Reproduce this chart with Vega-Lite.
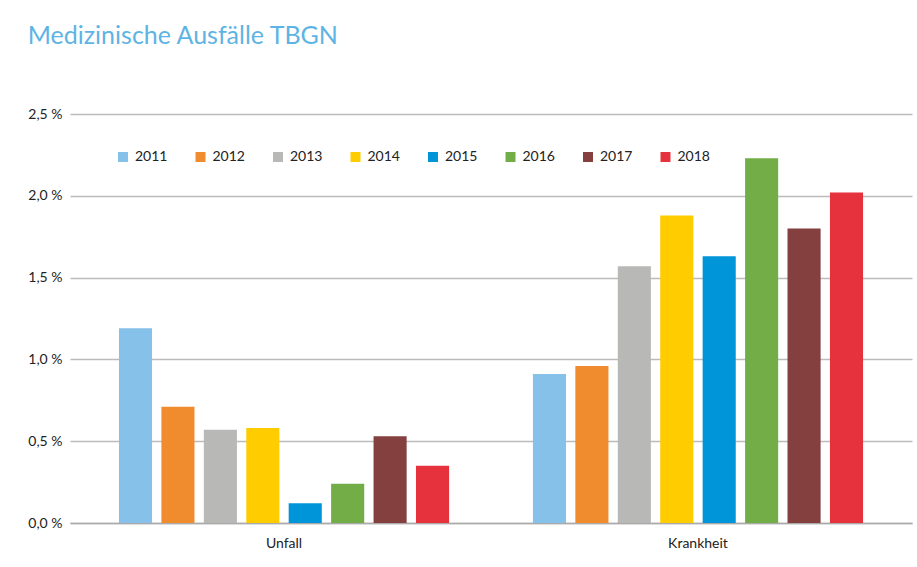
{
  "$schema": "https://vega.github.io/schema/vega-lite/v6.json",
  "autosize": {"type": "none"},
  "width": 842,
  "height": 409,
  "padding": {"left": 70, "top": 114, "right": 5, "bottom": 44},
  "background": "white",
  "title": {
    "text": "Medizinische Ausfälle TBGN",
    "anchor": "start",
    "frame": "bounds",
    "font": "Lato",
    "fontSize": 25,
    "fontWeight": "normal",
    "color": "#5DB4E4",
    "offset": 58
  },
  "config": {
    "font": "Lato",
    "view": {"stroke": null}
  },
  "data": {
    "values": [
      {"cat": "Unfall", "year": "2011", "v": 1.19},
      {"cat": "Unfall", "year": "2012", "v": 0.71},
      {"cat": "Unfall", "year": "2013", "v": 0.57},
      {"cat": "Unfall", "year": "2014", "v": 0.58},
      {"cat": "Unfall", "year": "2015", "v": 0.12},
      {"cat": "Unfall", "year": "2016", "v": 0.24},
      {"cat": "Unfall", "year": "2017", "v": 0.53},
      {"cat": "Unfall", "year": "2018", "v": 0.35},
      {"cat": "Krankheit", "year": "2011", "v": 0.91},
      {"cat": "Krankheit", "year": "2012", "v": 0.96},
      {"cat": "Krankheit", "year": "2013", "v": 1.57},
      {"cat": "Krankheit", "year": "2014", "v": 1.88},
      {"cat": "Krankheit", "year": "2015", "v": 1.63},
      {"cat": "Krankheit", "year": "2016", "v": 2.23},
      {"cat": "Krankheit", "year": "2017", "v": 1.8},
      {"cat": "Krankheit", "year": "2018", "v": 2.02}
    ]
  },
  "mark": {"type": "bar"},
  "encoding": {
    "x": {
      "field": "cat",
      "type": "nominal",
      "sort": ["Unfall", "Krankheit"],
      "scale": {"paddingInner": 0.18, "paddingOuter": 0.107},
      "axis": {
        "title": null,
        "labelAngle": 0,
        "labelFontSize": 14,
        "labelColor": "#222",
        "labelPadding": 13,
        "ticks": false,
        "domainColor": "#aaaaaa",
        "domainWidth": 1.5
      }
    },
    "xOffset": {
      "field": "year",
      "type": "nominal",
      "scale": {"paddingInner": 0.22, "paddingOuter": 0.11}
    },
    "y": {
      "field": "v",
      "type": "quantitative",
      "scale": {"domain": [0, 2.5]},
      "axis": {
        "title": null,
        "values": [0, 0.5, 1, 1.5, 2, 2.5],
        "labelExpr": "replace(format(datum.value, '.1f'), '.', ',') + ' %'",
        "labelFontSize": 14,
        "labelColor": "#222",
        "labelPadding": 8,
        "ticks": false,
        "domain": false,
        "gridColor": "#bbbbbb",
        "gridWidth": 1.5
      }
    },
    "color": {
      "field": "year",
      "type": "nominal",
      "scale": {
        "domain": ["2011", "2012", "2013", "2014", "2015", "2016", "2017", "2018"],
        "range": ["#85C1E9", "#F08C2E", "#B8B8B6", "#FFCC00", "#0095D9", "#72AD47", "#843F3F", "#E5323D"]
      },
      "legend": {
        "title": null,
        "orient": "none",
        "legendX": 46,
        "legendY": 36,
        "direction": "horizontal",
        "columns": 8,
        "columnPadding": 25.5,
        "symbolType": "square",
        "symbolSize": 100,
        "symbolStrokeWidth": 0,
        "labelFontSize": 14,
        "labelColor": "#222",
        "labelOffset": 5
      }
    }
  }
}
